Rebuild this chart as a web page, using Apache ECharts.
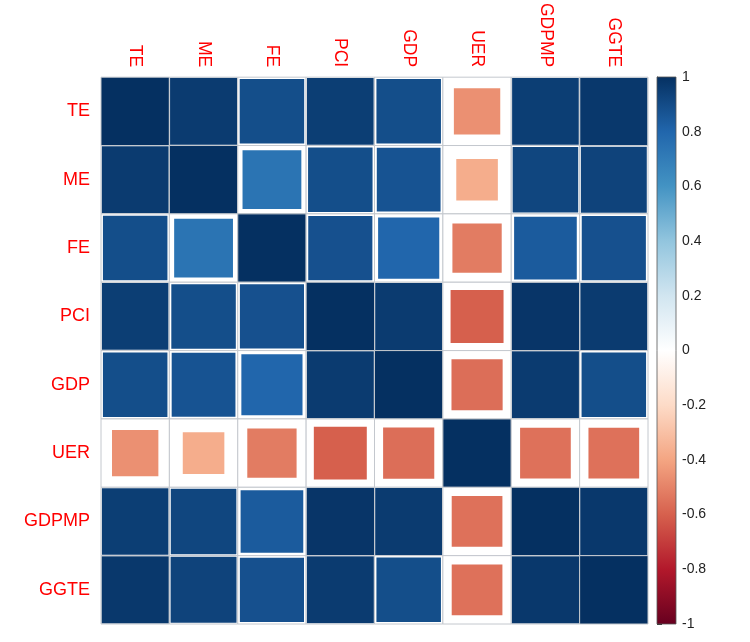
<!DOCTYPE html>
<html>
<head>
<meta charset="utf-8">
<script src="https://cdn.jsdelivr.net/npm/echarts@6/dist/echarts.min.js"></script>
<style>
  html, body { margin: 0; padding: 0; background: #fff; }
  #chart { width: 750px; height: 642px; }
</style>
</head>
<body>
<div id="chart"></div>
<script>
const vars = ["TE", "ME", "FE", "PCI", "GDP", "UER", "GDPMP", "GGTE"];

const rowTE    = [1, 0.96, 0.89, 0.95, 0.89, -0.46, 0.95, 0.97];
const rowME    = [0.96, 1, 0.74, 0.89, 0.87, -0.37, 0.92, 0.93];
const rowFE    = [0.89, 0.74, 1, 0.88, 0.80, -0.52, 0.84, 0.88];
const rowPCI   = [0.95, 0.89, 0.88, 1, 0.96, -0.60, 0.98, 0.96];
const rowGDP   = [0.89, 0.87, 0.80, 0.96, 1, -0.56, 0.96, 0.89];
const rowUER   = [-0.46, -0.37, -0.52, -0.60, -0.56, 1, -0.55, -0.55];
const rowGDPMP = [0.95, 0.92, 0.84, 0.98, 0.96, -0.55, 1, 0.97];
const rowGGTE  = [0.97, 0.93, 0.88, 0.96, 0.89, -0.55, 0.97, 1];

const corrRows = [rowTE, rowME, rowFE, rowPCI, rowGDP, rowUER, rowGDPMP, rowGGTE];

// RdBu palette, -1 -> 1
const palette = ["#67001F", "#B2182B", "#D6604D", "#F4A582", "#FDDBC7", "#FFFFFF",
                 "#D1E5F0", "#92C5DE", "#4393C3", "#2166AC", "#053061"];

const data = [];
corrRows.forEach(function (row, i) {
  row.forEach(function (v, j) {
    data.push([j, i, v]);
  });
});

var myChart = echarts.init(document.getElementById("chart"), null, { renderer: "canvas" });

const gridColor = "#C4C8CE";
const font = "Liberation Sans, Arial, sans-serif";

const option = {
  animation: false,
  backgroundColor: "#fff",
  grid: [
    { left: 101, top: 77, width: 547, height: 547 },
    { left: 657, top: 77, width: 19, height: 547 }
  ],
  xAxis: [
    {
      gridIndex: 0,
      type: "category",
      data: vars,
      position: "top",
      axisLine: { show: false },
      axisTick: { show: false },
      splitLine: { show: false },
      axisLabel: {
        rotate: 90,
        color: "#FF0000",
        fontSize: 17.5,
        fontFamily: font,
        margin: 10
      }
    },
    { gridIndex: 1, type: "value", min: 0, max: 1, show: false }
  ],
  yAxis: [
    {
      gridIndex: 0,
      type: "category",
      data: vars,
      inverse: true,
      axisLine: { show: false },
      axisTick: { show: false },
      splitLine: { show: false },
      axisLabel: {
        color: "#FF0000",
        fontSize: 18,
        fontFamily: font,
        margin: 11
      }
    },
    {
      gridIndex: 1,
      type: "value",
      min: -1,
      max: 1,
      interval: 0.2,
      position: "right",
      axisLine: { show: true, lineStyle: { color: "#333", width: 1 } },
      axisTick: { show: true, length: 5, lineStyle: { color: "#333" } },
      splitLine: { show: false },
      axisLabel: {
        color: "#222",
        fontSize: 14,
        fontFamily: font,
        margin: 6
      }
    }
  ],
  visualMap: {
    show: false,
    type: "continuous",
    min: -1,
    max: 1,
    dimension: 2,
    seriesIndex: 0,
    inRange: { color: palette }
  },
  series: [
    {
      type: "custom",
      xAxisIndex: 0,
      yAxisIndex: 0,
      data: data,
      renderItem: function (params, api) {
        const c = api.coord([api.value(0), api.value(1)]);
        const s = api.size([1, 1]);
        const v = api.value(2);
        const side = s[0] * Math.sqrt(Math.abs(v));
        return {
          type: "group",
          children: [
            {
              type: "rect",
              shape: { x: c[0] - s[0] / 2, y: c[1] - s[1] / 2, width: s[0], height: s[1] },
              style: { fill: "#fff" }
            },
            {
              type: "rect",
              shape: { x: c[0] - side / 2, y: c[1] - side / 2, width: side, height: side },
              style: { fill: api.visual("color") }
            },
            {
              type: "rect",
              shape: { x: c[0] - s[0] / 2, y: c[1] - s[1] / 2, width: s[0], height: s[1] },
              style: { fill: "none", stroke: gridColor, lineWidth: 1 }
            }
          ]
        };
      }
    },
    {
      type: "custom",
      xAxisIndex: 1,
      yAxisIndex: 1,
      silent: true,
      data: [[0, 1, 1, -1]],
      renderItem: function (params, api) {
        const p1 = api.coord([api.value(0), api.value(1)]);
        const p2 = api.coord([api.value(2), api.value(3)]);
        const stops = palette.slice().reverse().map(function (col, k) {
          return { offset: k / (palette.length - 1), color: col };
        });
        return {
          type: "rect",
          shape: { x: p1[0], y: p1[1], width: p2[0] - p1[0], height: p2[1] - p1[1] },
          style: {
            fill: new echarts.graphic.LinearGradient(0, 0, 0, 1, stops),
            stroke: "#555",
            lineWidth: 0.8
          }
        };
      }
    }
  ]
};

option && myChart.setOption(option);
</script>
</body>
</html>
